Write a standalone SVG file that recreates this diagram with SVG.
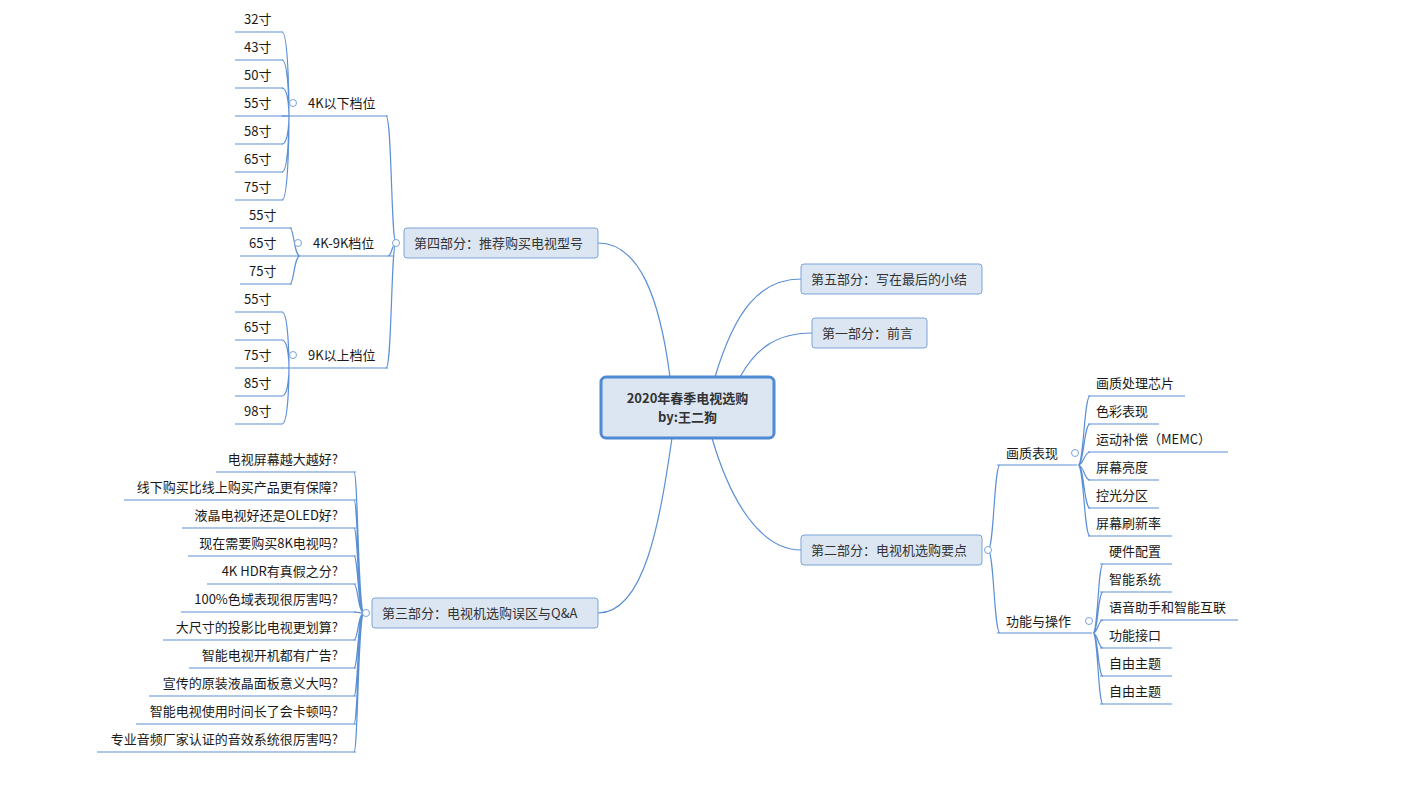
<svg xmlns="http://www.w3.org/2000/svg" width="1420" height="791" viewBox="0 0 1420 791">
<style>
text{font-family:"Microsoft YaHei","Noto Sans CJK SC",sans-serif;font-size:13px;fill:#1a1a1a}
.c{fill:none;stroke:#5b8fd6;stroke-width:1.2}
.t{fill:#dce6f3;stroke:#7aa3d8;stroke-width:1}
.tt{fill:#333}
.k{fill:#fff;stroke:#7aa3d8;stroke-width:1}
.r{text-anchor:end}
</style>
<rect width="1420" height="791" fill="#fff"/>
<g id="connectors">
<path class="c" d="M670 377C660 300 640 243 598 243M715 377C735 310 760 279 801 279M740 377C755 350 775 333 812 333M712 438C730 500 760 550 801 550M672 438C660 520 645 613 598 613"/>
<path class="c" d="M396 243C391 243 392 116 386 116M396 243C392 243 392 256 388 256M396 243C391 243 392 368 386 368"/>
<path class="c" d="M282 116H388M300 256H393M282 368H388"/>
<path class="c" d="M289 116C289 116 289 32 282 32M289 116C289 116 289 60 282 60M289 116C289 116 289 88 282 88M289 116H282M289 116C289 116 289 144 282 144M289 116C289 116 289 172 282 172M289 116C289 116 289 200 282 200"/>
<path class="c" d="M235 32H283M235 60H283M235 88H283M235 116H283M235 144H283M235 172H283M235 200H283"/>
<path class="c" d="M300 256C294 256 294 228 290 228M300 256H290M300 256C294 256 294 284 290 284M240 228H292M240 256H292M240 284H292"/>
<path class="c" d="M289 368C289 368 289 312 282 312M289 368C289 368 289 340 282 340M289 368C289 368 289 396 282 396M289 368C289 368 289 424 282 424M235 312H283M235 340H283M235 368H283M235 396H283M235 424H283"/>
<path class="c" d="M364 613C358 613 358 472 354 472M364 613C358 613 358 500 354 500M364 613C358 613 358 528 354 528M364 613C358 613 358 556 354 556M364 613C358 613 358 584 354 584M364 613C358 613 358 612 354 612M364 613C358 613 358 640 354 640M364 613C358 613 358 668 354 668M364 613C358 613 358 696 354 696M364 613C358 613 358 724 354 724M364 613C358 613 358 752 354 752"/>
<path class="c" d="M216 472H356M124 500H356M182 528H356M188 556H356M207 584H356M181 612H356M163 640H356M189 668H356M149 696H356M136 724H356M97 752H356"/>
<path class="c" d="M988 550C994 550 994 465 1000 465M988 550C994 550 994 633 1000 633M997 465H1077M997 633H1092"/>
<path class="c" d="M1078 465C1084 465 1084 396 1090 396M1078 465C1084 465 1084 424 1090 424M1078 465C1084 465 1084 452 1090 452M1078 465C1084 465 1084 480 1090 480M1078 465C1084 465 1084 508 1090 508M1078 465C1084 465 1084 536 1090 536"/>
<path class="c" d="M1088 396H1185M1088 424H1159M1088 452H1228M1088 480H1159M1088 508H1159M1088 536H1172"/>
<path class="c" d="M1093 633C1098 633 1098 564 1103 564M1093 633C1098 633 1098 592 1103 592M1093 633C1098 633 1098 620 1103 620M1093 633C1098 633 1098 648 1103 648M1093 633C1098 633 1098 676 1103 676M1093 633C1098 633 1098 704 1103 704"/>
<path class="c" d="M1100 564H1172M1100 592H1172M1100 620H1238M1100 648H1172M1100 676H1172M1100 704H1172"/>
</g>
<g id="center"><rect x="601" y="377" width="173" height="61" rx="5" fill="#dce6f3" stroke="#4f8ad4" stroke-width="3"/>
<text x="687.5" y="403" text-anchor="middle" class="tt" font-weight="bold">2020年春季电视选购</text>
<text x="687.5" y="422" text-anchor="middle" class="tt" font-weight="bold">by:王二狗</text></g>
<g id="p4"><rect class="t" x="404" y="228" width="194" height="30" rx="3"/><text x="414" y="248" class="tt">第四部分：推荐购买电视型号</text><circle class="k" cx="396" cy="243" r="3.5"/></g>
<g id="p5"><rect class="t" x="801" y="264" width="181" height="30" rx="3"/><text x="811" y="284" class="tt">第五部分：写在最后的小结</text></g>
<g id="p1"><rect class="t" x="812" y="318" width="115" height="30" rx="3"/><text x="822" y="338" class="tt">第一部分：前言</text></g>
<g id="p2"><rect class="t" x="801" y="535" width="181" height="30" rx="3"/><text x="811" y="555" class="tt">第二部分：电视机选购要点</text><circle class="k" cx="988" cy="550" r="3.5"/></g>
<g id="p3"><rect class="t" x="372" y="598" width="226" height="30" rx="3"/><text x="382" y="618" class="tt">第三部分：电视机选购误区与Q&amp;A</text><circle class="k" cx="366" cy="613" r="3.5"/></g>
<g id="s4k"><text x="308" y="108">4K以下档位</text><circle class="k" cx="293" cy="103" r="3.5"/>
<text x="244" y="24">32寸</text><text x="244" y="52">43寸</text><text x="244" y="80">50寸</text><text x="244" y="108">55寸</text><text x="244" y="136">58寸</text><text x="244" y="164">65寸</text><text x="244" y="192">75寸</text></g>
<g id="s4k9k"><text x="313" y="248">4K-9K档位</text><circle class="k" cx="298" cy="243" r="3.5"/>
<text x="249" y="220">55寸</text><text x="249" y="248">65寸</text><text x="249" y="276">75寸</text></g>
<g id="s9k"><text x="308" y="360">9K以上档位</text><circle class="k" cx="293" cy="355" r="3.5"/>
<text x="244" y="304">55寸</text><text x="244" y="332">65寸</text><text x="244" y="360">75寸</text><text x="244" y="388">85寸</text><text x="244" y="416">98寸</text></g>
<g id="qa">
<text x="338" y="464" class="r">电视屏幕越大越好?</text>
<text x="338" y="492" class="r">线下购买比线上购买产品更有保障?</text>
<text x="338" y="520" class="r">液晶电视好还是OLED好?</text>
<text x="338" y="548" class="r">现在需要购买8K电视吗?</text>
<text x="338" y="576" class="r">4K HDR有真假之分?</text>
<text x="338" y="604" class="r">100%色域表现很厉害吗?</text>
<text x="338" y="632" class="r">大尺寸的投影比电视更划算?</text>
<text x="338" y="660" class="r">智能电视开机都有广告?</text>
<text x="338" y="688" class="r">宣传的原装液晶面板意义大吗?</text>
<text x="338" y="716" class="r">智能电视使用时间长了会卡顿吗?</text>
<text x="338" y="744" class="r">专业音频厂家认证的音效系统很厉害吗?</text>
</g>
<g id="hz"><text x="1006" y="458">画质表现</text><circle class="k" cx="1075" cy="453" r="3.5"/>
<text x="1096" y="388">画质处理芯片</text><text x="1096" y="416">色彩表现</text><text x="1096" y="444">运动补偿（MEMC）</text><text x="1096" y="472">屏幕亮度</text><text x="1096" y="500">控光分区</text><text x="1096" y="528">屏幕刷新率</text></g>
<g id="gn"><text x="1006" y="626">功能与操作</text><circle class="k" cx="1089" cy="621" r="3.5"/>
<text x="1109" y="556">硬件配置</text><text x="1109" y="584">智能系统</text><text x="1109" y="612">语音助手和智能互联</text><text x="1109" y="640">功能接口</text><text x="1109" y="668">自由主题</text><text x="1109" y="696">自由主题</text></g>
</svg>
